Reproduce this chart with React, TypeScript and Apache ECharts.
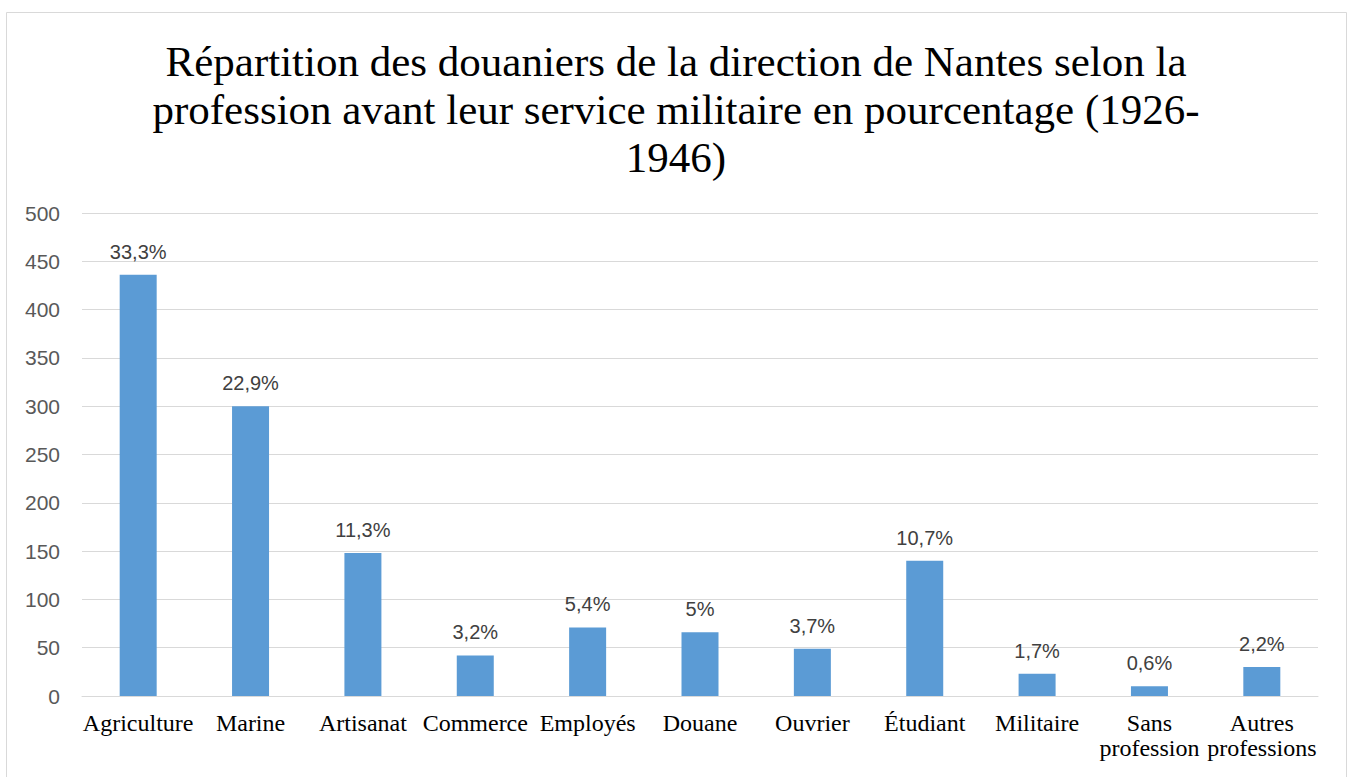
import React, { useEffect, useRef } from "react";
import * as echarts from "echarts";

const categories = [
  "Agriculture",
  "Marine",
  "Artisanat",
  "Commerce",
  "Employés",
  "Douane",
  "Ouvrier",
  "Étudiant",
  "Militaire",
  "Sans\nprofession",
  "Autres\nprofessions",
];
const counts = [436, 300, 148, 42, 71, 66, 49, 140, 23, 10, 30];
const percentLabels = ["33,3%", "22,9%", "11,3%", "3,2%", "5,4%", "5%", "3,7%", "10,7%", "1,7%", "0,6%", "2,2%"];
const titleText =
  "Répartition des douaniers de la direction de Nantes selon la\nprofession avant leur service militaire en pourcentage (1926-\n1946)";

export default function App() {
  const ref = useRef<HTMLDivElement>(null);
  useEffect(() => {
    if (!ref.current) return;
    const chart = echarts.init(ref.current, undefined, { renderer: "svg" });
    chart.setOption({
      animation: false,
      backgroundColor: "#ffffff",
      graphic: [
        {
          type: "rect",
          shape: { x: 6.5, y: 12.5, width: 1340, height: 800 },
          style: { fill: "none", stroke: "#d9d9d9", lineWidth: 1 },
          silent: true,
        },
        {
          type: "text",
          x: 676,
          y: 37,
          silent: true,
          style: {
            text: titleText,
            align: "center",
            verticalAlign: "top",
            fontFamily: "'Liberation Serif', 'Times New Roman', serif",
            fontSize: 43,
            lineHeight: 48,
            fill: "#000000",
          },
        },
      ],
      grid: { left: 82, right: 32, top: 213, bottom: 81, containLabel: false },
      xAxis: {
        type: "category",
        data: categories,
        axisTick: { show: false },
        axisLine: { show: true, lineStyle: { color: "#d9d9d9", width: 1 } },
        axisLabel: {
          interval: 0,
          margin: 14,
          color: "#000000",
          fontFamily: "'Liberation Serif', 'Times New Roman', serif",
          fontSize: 24,
          lineHeight: 25,
        },
      },
      yAxis: {
        type: "value",
        min: 0,
        max: 500,
        interval: 50,
        axisLine: { show: false },
        axisTick: { show: false },
        splitLine: { lineStyle: { color: "#d9d9d9", width: 1 } },
        axisLabel: {
          margin: 22,
          color: "#595959",
          fontFamily: "'Liberation Sans', Arial, sans-serif",
          fontSize: 21,
        },
      },
      series: [
        {
          type: "bar",
          data: counts,
          barWidth: 37,
          itemStyle: { color: "#5B9BD5" },
          label: {
            show: true,
            position: "top",
            distance: 13,
            color: "#404040",
            fontFamily: "'Liberation Sans', Arial, sans-serif",
            fontSize: 20,
            formatter: (p: any) => percentLabels[p.dataIndex],
          },
        },
      ],
    });
    return () => chart.dispose();
  }, []);
  return (
    <div
      ref={ref}
      style={{ position: "absolute", left: 0, top: 0, width: 1350, height: 777 }}
    />
  );
}
